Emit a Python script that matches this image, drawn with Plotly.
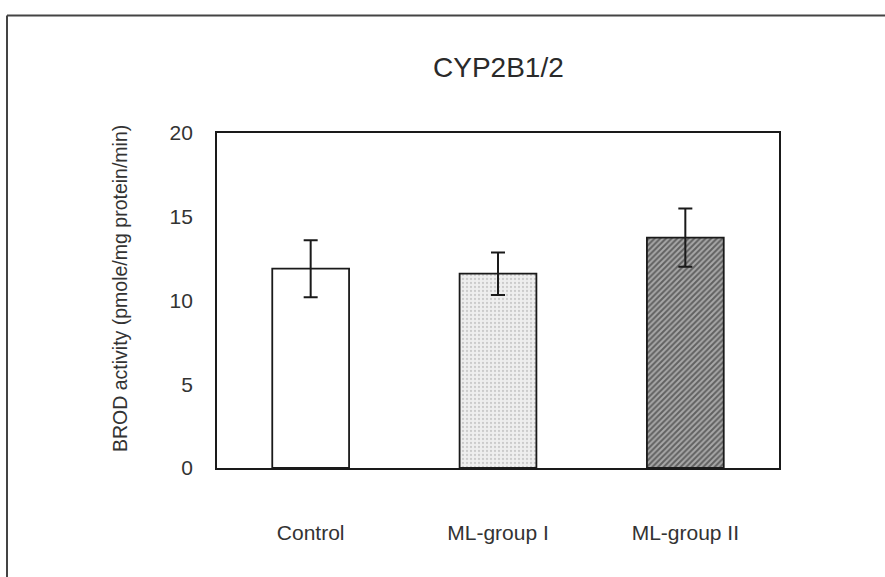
import plotly.graph_objects as go

categories = ["Control", "ML-group I", "ML-group II"]
means = [11.9, 11.6, 13.75]
sem = [1.7, 1.27, 1.74]
title_text = "CYP2B1/2"
y_title = "BROD activity (pmole/mg protein/min)"
y_ticks = [0, 5, 10, 15, 20]

W, H = 885, 577
L, R, T, B = 217, 106, 133, 109
pw, ph = W - L - R, H - T - B

def px_x(p):
    return (p - L) / pw

def px_y(p):
    return (H - B - p) / ph

fig = go.Figure()
fills = ["white", "#ececec", "#9a9a9a"]
patterns = [
    dict(shape=""),
    dict(shape=".", fgcolor="#a8a8a8", bgcolor="#eeeeee", size=4, solidity=0.25),
    dict(shape="/", fgcolor="#1a1a1a", bgcolor="#a8a8a8", size=4, solidity=0.5),
]
for i, c in enumerate(categories):
    fig.add_trace(go.Bar(
        x=[c], y=[means[i]],
        width=0.41,
        marker=dict(color=fills[i], line=dict(color="#1a1a1a", width=1.8), pattern=patterns[i]),
        error_y=dict(type="data", array=[sem[i]], visible=True, color="#1a1a1a", thickness=2, width=7),
        showlegend=False,
    ))

fig.update_layout(
    width=W, height=H,
    margin=dict(l=L, r=R, t=T, b=B, pad=0),
    paper_bgcolor="white", plot_bgcolor="white",
    barmode="overlay",
    font=dict(family="Liberation Sans, Arial, sans-serif", color="#2a2a2a"),
    xaxis=dict(
        categoryorder="array", categoryarray=categories,
        range=[-0.5, 2.5],
        showline=True, linecolor="#1a1a1a", linewidth=1.8, mirror=True,
        showgrid=False, ticks="", ticklabelstandoff=45,
        tickfont=dict(size=21, color="#333"),
    ),
    yaxis=dict(
        range=[0, 20], tickvals=y_ticks,
        showline=True, linecolor="#1a1a1a", linewidth=1.8, mirror=True,
        showgrid=False, zeroline=False, ticks="", ticklabelstandoff=18,
        tickfont=dict(size=21, color="#333"),
    ),
)

fig.add_annotation(
    text=title_text, xref="paper", yref="paper",
    x=0.5, y=px_y(67.5), showarrow=False,
    font=dict(size=28, color="#2a2a2a"), xanchor="center", yanchor="middle",
)
fig.add_annotation(
    text=y_title, xref="paper", yref="paper",
    x=px_x(120), y=px_y(289), textangle=-90, showarrow=False,
    font=dict(size=19.5, color="#333"), xanchor="center", yanchor="middle",
)

# outer frame (top and left lines of the scanned figure box)
fig.add_shape(type="line", xref="paper", yref="paper",
              x0=px_x(7), x1=px_x(885), y0=px_y(15.5), y1=px_y(15.5),
              line=dict(color="#444", width=2))
fig.add_shape(type="line", xref="paper", yref="paper",
              x0=px_x(7), x1=px_x(7), y0=px_y(15.5), y1=px_y(577),
              line=dict(color="#444", width=2))

fig.write_html("out.html")
